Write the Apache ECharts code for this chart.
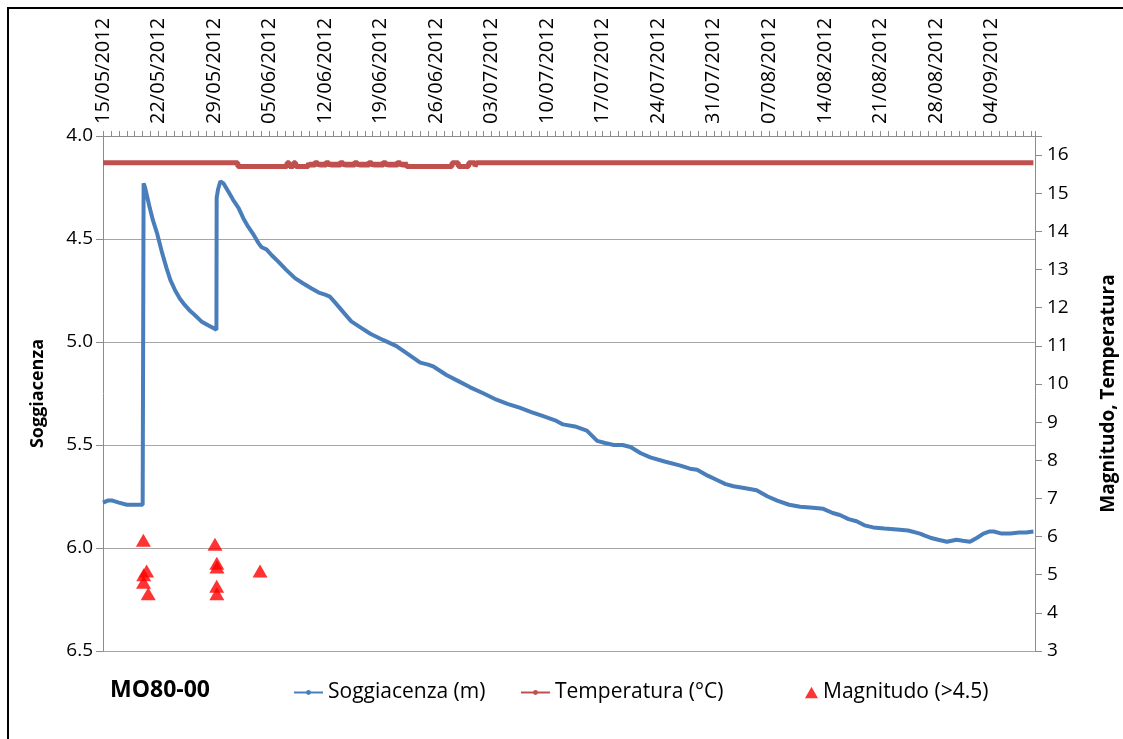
<!DOCTYPE html>
<html>
<head>
<meta charset="utf-8">
<script src="https://cdn.jsdelivr.net/npm/echarts@6/dist/echarts.min.js"></script>
<style>
  html, body { margin: 0; padding: 0; background: #fff; }
  #chart { width: 1123px; height: 739px; }
</style>
</head>
<body>
<div id="chart"></div>
<script>
  // giorni dal 15/05/2012
  const startDate = new Date(2012, 4, 15);

  const sogDay = [0, 0.6, 1.2, 2.0, 3.0, 4.0, 5.0, 5.1, 5.12, 5.3, 5.6, 5.9, 6.3, 6.8, 7.4, 8.0, 8.5, 9.1, 9.7,
    10.3, 11.0, 11.6, 12.4, 13.3, 14.3, 14.33, 14.5, 14.8, 15.2, 15.8, 16.4, 17.1, 17.7, 18.3, 19.0, 19.6,
    20.0, 20.6, 21.3, 22.1, 23.1, 24.2, 25.2, 26.3, 27.2, 28.0, 28.6, 29.3, 30.4, 31.3, 32.5, 33.7, 35.3,
    37.0, 38.5, 40.0, 41.0, 41.7, 43.3, 44.8, 46.3, 48.0, 49.6, 51.0, 52.6, 54.0, 55.5, 57.0, 58.0, 59.5,
    61.0, 62.3, 63.3, 64.4, 65.5, 66.5, 67.8, 69.0, 70.8, 72.8, 74.0, 74.9, 76.3, 77.4, 78.5, 79.5, 81.0,
    82.4, 83.8, 85.0, 86.5, 87.9, 89.5, 90.8, 92.0, 92.9, 94.0, 95.0, 96.0, 97.1, 98.5, 100.1, 101.5,
    103.0, 103.6, 104.3, 105.3, 106.4, 107.0, 107.6, 108.4, 109.3, 110.2, 111.0, 111.7, 112.3, 113.3,
    114.4, 115.5, 116.4, 117.3];
  const sogVal = [5.78, 5.77, 5.77, 5.78, 5.79, 5.79, 5.79, 5.79, 4.23, 4.25, 4.30, 4.35, 4.41, 4.47, 4.56, 4.64, 4.70, 4.75, 4.79,
    4.82, 4.85, 4.87, 4.90, 4.92, 4.94, 4.30, 4.26, 4.22, 4.23, 4.27, 4.31, 4.35, 4.40, 4.44, 4.48, 4.52,
    4.54, 4.55, 4.58, 4.61, 4.65, 4.69, 4.715, 4.74, 4.76, 4.77, 4.78, 4.81, 4.86, 4.90, 4.93, 4.96, 4.99,
    5.02, 5.06, 5.10, 5.11, 5.12, 5.16, 5.19, 5.22, 5.25, 5.28, 5.30, 5.32, 5.34, 5.36, 5.38, 5.40, 5.41,
    5.43, 5.48, 5.49, 5.50, 5.50, 5.51, 5.54, 5.56, 5.58, 5.60, 5.615, 5.62, 5.65, 5.67, 5.69, 5.70, 5.71,
    5.72, 5.75, 5.77, 5.79, 5.80, 5.805, 5.81, 5.83, 5.84, 5.86, 5.87, 5.89, 5.90, 5.905, 5.91, 5.915,
    5.93, 5.94, 5.95, 5.96, 5.97, 5.965, 5.96, 5.965, 5.97, 5.95, 5.93, 5.92, 5.92, 5.93,
    5.93, 5.925, 5.925, 5.92];

  const tempDay = [0, 17.0, 23.2, 23.5, 24.0, 24.3, 25.9,
    26.1, 26.3, 26.5, 26.7, 26.9, 27.1, 27.3, 27.5, 27.7, 27.9, 28.1, 28.3, 28.5, 28.7, 28.9,
    29.1, 29.3, 29.5, 29.7, 29.9, 30.1, 30.3, 30.5, 30.7, 30.9, 31.1, 31.3, 31.5, 31.7, 31.9,
    32.1, 32.3, 32.5, 32.7, 32.9, 33.1, 33.3, 33.5, 33.7, 33.9, 34.1, 34.3, 34.5, 34.7, 34.9,
    35.1, 35.3, 35.5, 35.7, 35.9, 36.1, 36.3, 36.5, 36.7, 36.9, 37.1, 37.3, 37.5, 37.7, 37.9,
    38.1, 38.3, 38.6, 44.0, 44.8, 46.1, 46.9, 47.1, 117.3];
  const tempVal = [15.8, 15.7, 15.8, 15.7, 15.8, 15.7, 15.8,
    15.7, 15.8, 15.7, 15.8, 15.8, 15.7, 15.8, 15.7, 15.8, 15.7, 15.8, 15.8, 15.7, 15.8, 15.7,
    15.8, 15.7, 15.8, 15.7, 15.8, 15.8, 15.7, 15.8, 15.7, 15.8, 15.7, 15.8, 15.7, 15.8, 15.8,
    15.7, 15.8, 15.7, 15.8, 15.7, 15.8, 15.7, 15.8, 15.8, 15.7, 15.8, 15.7, 15.8, 15.7, 15.8,
    15.7, 15.8, 15.8, 15.7, 15.8, 15.7, 15.8, 15.7, 15.8, 15.7, 15.8, 15.8, 15.7, 15.8, 15.7,
    15.8, 15.7, 15.7, 15.8, 15.7, 15.8, 15.7, 15.8, 15.8];

  const magDay = [5.09, 5.13, 5.11, 5.5, 5.7, 14.12, 14.35, 14.37, 14.33, 14.35, 19.8];
  const magVal = [5.9, 5.0, 4.8, 5.1, 4.5, 5.8, 5.3, 5.2, 4.7, 4.5, 5.1];

  const font = 'Open Sans';
  const pad = n => (n < 10 ? '0' : '') + n;
  const fmtDay = v => {
    const d = new Date(startDate.getTime() + v * 86400000);
    return pad(d.getDate()) + '/' + pad(d.getMonth() + 1) + '/' + d.getFullYear();
  };
  const zip = (a, b) => a.map((x, i) => [x, b[i]]);
  const legendText = { fontFamily: font, fontSize: 21, color: '#000' };

  const chart = echarts.init(document.getElementById('chart'));
  chart.setOption({
    backgroundColor: '#fff',
    animation: false,
    textStyle: { fontFamily: font, color: '#000' },
    title: {
      text: 'MO80-00', left: 105, top: 674,
      textStyle: { fontFamily: font, fontSize: 23, fontWeight: 'bold', color: '#000' }
    },
    legend: [{
      left: 288, top: 677, itemWidth: 29, itemHeight: 6, selectedMode: false,
      textStyle: legendText, data: ['Soggiacenza (m)']
    }, {
      left: 515, top: 677, itemWidth: 29, itemHeight: 6, selectedMode: false,
      textStyle: legendText, data: ['Temperatura (°C)']
    }, {
      left: 800, top: 677, itemWidth: 13, itemHeight: 12, selectedMode: false,
      textStyle: legendText,
      data: [{ name: 'Magnitudo (>4.5)', icon: 'path://M5,0L10,9L0,9Z' }]
    }],
    graphic: [{
      type: 'rect', shape: { x: 8, y: 8, width: 1200, height: 800 },
      style: { fill: 'none', stroke: '#000', lineWidth: 2 }, silent: true
    }],
    grid: { left: 103, right: 88, top: 136, bottom: 88, outerBoundsMode: 'none' },
    xAxis: {
      type: 'value', position: 'top', min: 0, max: 117.5, interval: 1,
      axisLine: { show: true, lineStyle: { color: '#8c8c8c', width: 1 } },
      axisTick: { show: true, length: 5, lineStyle: { color: '#8c8c8c' } },
      splitLine: { show: false },
      axisLabel: {
        rotate: -90, margin: 12, fontSize: 20, color: '#000', fontFamily: font,
        formatter: v => (Math.abs(v % 7) < 1e-6 ? fmtDay(v) : '')
      }
    },
    yAxis: [{
      type: 'value', inverse: true, min: 4, max: 6.5, interval: 0.5,
      name: 'Soggiacenza', nameLocation: 'middle', nameGap: 56, nameRotate: 90,
      nameTextStyle: { fontFamily: font, fontSize: 18, fontWeight: 'bold', color: '#000' },
      axisLine: { show: true, lineStyle: { color: '#8c8c8c' } },
      axisTick: { show: true, length: 7, lineStyle: { color: '#8c8c8c' } },
      splitLine: { show: true, lineStyle: { color: '#a6a6a6', width: 1 } },
      axisLabel: { fontSize: 19, color: '#000', margin: 10, formatter: v => v.toFixed(1) }
    }, {
      type: 'value', position: 'right', min: 3, max: 16.5, interval: 1,
      name: 'Magnitudo, Temperatura', nameLocation: 'middle', nameGap: 64, nameRotate: 90,
      nameTextStyle: { fontFamily: font, fontSize: 19, fontWeight: 'bold', color: '#000' },
      axisLine: { show: true, lineStyle: { color: '#8c8c8c' } },
      axisTick: { show: true, length: 7, lineStyle: { color: '#8c8c8c' } },
      splitLine: { show: false },
      axisLabel: {
        fontSize: 19, color: '#000', margin: 12,
        formatter: v => (Number.isInteger(v) ? String(v) : '')
      }
    }],
    series: [{
      name: 'Soggiacenza (m)', type: 'line', yAxisIndex: 0,
      data: zip(sogDay, sogVal),
      symbol: 'circle', symbolSize: 4, showSymbol: false,
      lineStyle: { color: '#4a7ebb', width: 4 },
      itemStyle: { color: '#4a7ebb' }, z: 3
    }, {
      name: 'Temperatura (°C)', type: 'line', yAxisIndex: 1, step: 'end',
      data: zip(tempDay, tempVal),
      symbol: 'circle', symbolSize: 4, showSymbol: false,
      lineStyle: { color: '#c0504d', width: 5 },
      itemStyle: { color: '#c0504d' }, z: 2
    }, {
      name: 'Magnitudo (>4.5)', type: 'scatter', yAxisIndex: 1,
      data: zip(magDay, magVal),
      symbol: 'triangle', symbolSize: [15, 13],
      itemStyle: { color: '#ff0000' }, z: 4
    }]
  });
</script>
</body>
</html>
